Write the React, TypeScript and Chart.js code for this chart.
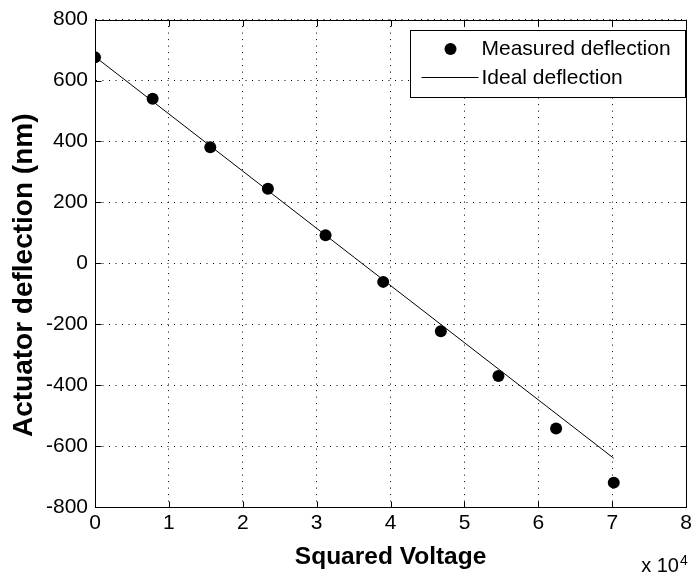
import { useEffect, useRef } from "react";
import { Chart, registerables } from "chart.js";

Chart.register(...registerables);

// Measured points: squared voltage (V^2) against actuator deflection (nm)
const squaredVoltage = [0, 7800, 15600, 23400, 31200, 39000, 46800, 54600, 62400, 70200];
const measuredDeflection = [676, 540, 381, 245, 92, -61, -223, -370, -542, -720];

// Ideal (linear) deflection, given by its two end points
const idealVoltage = [0, 70200];
const idealDeflection = [678, -640];

// Axis ticks; the x ticks are shown in units of 10^4
const xTickLabels = [0, 1, 2, 3, 4, 5, 6, 7, 8];
const xExponent = 4;
const yTickValues = [-800, -600, -400, -200, 0, 200, 400, 600, 800];

const seriesNames = ["Measured deflection", "Ideal deflection"];
const xTitle = "Squared Voltage";
const yTitle = "Actuator deflection (nm)";

const FONT = '"Liberation Sans", Arial, Helvetica, sans-serif';
const xScaleFactor = Math.pow(10, xExponent);

// Box, inward tick marks, legend, axis titles and the x10^n exponent
const decorations = {
  id: "decorations",
  afterDraw(chart: any) {
    const { ctx, chartArea: a, scales } = chart;
    const xs = scales.x;
    const ys = scales.y;
    ctx.save();
    ctx.strokeStyle = "#000";
    ctx.fillStyle = "#000";
    ctx.lineWidth = 1;

    const L = Math.round(a.left) + 0.5;
    const R = Math.round(a.right) + 0.5;
    const T = Math.round(a.top) + 0.5;
    const B = Math.round(a.bottom) + 0.5;

    // inward ticks
    const tl = 6;
    ctx.beginPath();
    xTickLabels.forEach((v) => {
      const px = Math.round(xs.getPixelForValue(v * xScaleFactor)) + 0.5;
      ctx.moveTo(px, B);
      ctx.lineTo(px, B - tl);
      ctx.moveTo(px, T);
      ctx.lineTo(px, T + tl);
    });
    yTickValues.forEach((v) => {
      const py = Math.round(ys.getPixelForValue(v)) + 0.5;
      ctx.moveTo(L, py);
      ctx.lineTo(L + tl, py);
      ctx.moveTo(R, py);
      ctx.lineTo(R - tl, py);
    });
    ctx.stroke();

    // axes box
    ctx.beginPath();
    ctx.rect(L, T, R - L, B - T);
    ctx.stroke();

    // legend
    const lw = 275;
    const lh = 67;
    const lx = Math.round(a.right) - lw - 0.5;
    const ly = Math.round(a.top) + 10.5;
    ctx.fillStyle = "#fff";
    ctx.fillRect(lx, ly, lw, lh);
    ctx.strokeRect(lx, ly, lw, lh);
    ctx.fillStyle = "#000";
    ctx.beginPath();
    ctx.arc(lx + 40, ly + 18.5, 6, 0, Math.PI * 2);
    ctx.fill();
    ctx.beginPath();
    ctx.moveTo(lx + 11, ly + 47);
    ctx.lineTo(lx + 68, ly + 47);
    ctx.stroke();
    ctx.font = `21px ${FONT}`;
    ctx.textAlign = "left";
    ctx.textBaseline = "middle";
    ctx.fillText(seriesNames[0], lx + 71, ly + 19);
    ctx.fillText(seriesNames[1], lx + 71, ly + 48);

    // axis titles
    ctx.textBaseline = "alphabetic";
    ctx.textAlign = "center";
    ctx.font = `bold 24.5px ${FONT}`;
    ctx.fillText(xTitle, (a.left + a.right) / 2, 564);

    ctx.save();
    ctx.translate(32, (a.top + a.bottom) / 2 + 12);
    ctx.rotate(-Math.PI / 2);
    ctx.font = `bold 28px ${FONT}`;
    ctx.fillText(yTitle, 0, 0);
    ctx.restore();

    // exponent of the x ticks
    ctx.textAlign = "left";
    ctx.font = `20px ${FONT}`;
    const baseText = "x 10";
    const bx = a.right - 45;
    ctx.fillText(baseText, bx, 572);
    const bw = ctx.measureText(baseText).width;
    ctx.font = `14px ${FONT}`;
    ctx.fillText(String(xExponent), bx + bw + 1, 565);

    ctx.restore();
  },
};

export default function App() {
  const canvasRef = useRef<HTMLCanvasElement | null>(null);

  useEffect(() => {
    const canvas = canvasRef.current;
    if (!canvas) return;

    const measured = squaredVoltage.map((x, i) => ({ x, y: measuredDeflection[i] }));
    const ideal = idealVoltage.map((x, i) => ({ x, y: idealDeflection[i] }));

    const chart = new Chart(canvas, {
      type: "scatter",
      data: {
        datasets: [
          {
            label: seriesNames[1],
            data: ideal,
            showLine: true,
            borderColor: "#000",
            borderWidth: 1,
            pointRadius: 0,
            pointHoverRadius: 0,
            order: 2,
          },
          {
            label: seriesNames[0],
            data: measured,
            showLine: false,
            backgroundColor: "#000",
            borderColor: "#000",
            pointRadius: 6,
            pointBorderWidth: 0,
            order: 1,
          },
        ],
      },
      options: {
        animation: false,
        responsive: false,
        devicePixelRatio: 1,
        layout: { padding: { top: 19, right: 8, left: 0, bottom: 0 } },
        plugins: {
          legend: { display: false },
          tooltip: { enabled: false },
          title: { display: false },
        },
        scales: {
          x: {
            type: "linear",
            min: xTickLabels[0] * xScaleFactor,
            max: xTickLabels[xTickLabels.length - 1] * xScaleFactor,
            afterBuildTicks: (s: any) => {
              s.ticks = xTickLabels.map((v) => ({ value: v * xScaleFactor }));
            },
            afterFit: (s: any) => {
              s.height = 69;
            },
            ticks: {
              color: "#000",
              font: { family: FONT, size: 21 },
              padding: 4,
              maxRotation: 0,
              autoSkip: false,
              callback: (v: any) => String(Math.round(Number(v) / xScaleFactor)),
            },
            grid: {
              color: "#000",
              lineWidth: 1,
              drawTicks: false,
            },
            border: { display: true, color: "#000", width: 1, dash: [1, 5.5] },
          },
          y: {
            type: "linear",
            min: yTickValues[0],
            max: yTickValues[yTickValues.length - 1],
            afterBuildTicks: (s: any) => {
              s.ticks = yTickValues.map((v) => ({ value: v }));
            },
            afterFit: (s: any) => {
              s.width = 95;
            },
            ticks: {
              color: "#000",
              font: { family: FONT, size: 21 },
              padding: 7,
              autoSkip: false,
              callback: (v: any) => String(v),
            },
            grid: {
              color: "#000",
              lineWidth: 1,
              drawTicks: false,
            },
            border: { display: true, color: "#000", width: 1, dash: [1, 5.5] },
          },
        },
      },
      plugins: [decorations],
    });

    return () => chart.destroy();
  }, []);

  return (
    <div style={{ position: "absolute", left: 0, top: 0, width: 696, height: 576, background: "#fff" }}>
      <canvas ref={canvasRef} width={696} height={576} style={{ display: "block" }} />
    </div>
  );
}
